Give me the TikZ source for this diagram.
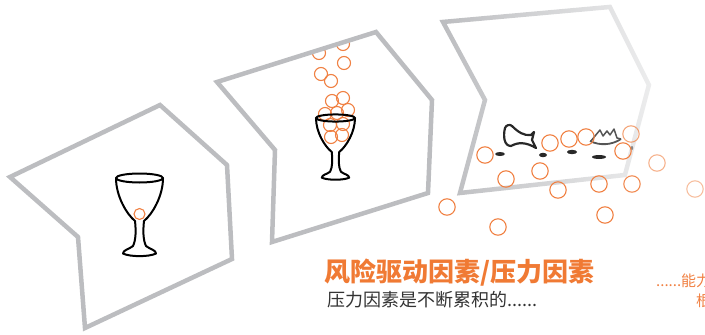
\documentclass[tikz,border=0pt]{standalone}
\usepackage{fontspec}
\usetikzlibrary{fadings}
\newfontfamily\cjk{Noto Sans CJK SC}
\definecolor{framegray}{RGB}{188,189,192}
\definecolor{dropor}{RGB}{240,128,66}
\definecolor{titleor}{RGB}{240,122,52}
\definecolor{textgray}{RGB}{51,51,51}
\definecolor{shard}{RGB}{40,40,40}
\definecolor{rimgray}{RGB}{85,85,85}
\tikzfading[name=fade east, left color=transparent!0, right color=transparent!72]
\tikzset{
  frame/.style={draw=framegray, line width=4.5, line join=miter},
  drop/.style={draw=dropor, line width=1.1},
  glass/.style={draw=black, line width=2, line join=round},
  goblet/.pic={
    \draw[glass] (-23.5,0) .. controls (-23.5,18) and (-13,36) .. (-4.5,43)
      .. controls (-3.5,52) and (-3.5,62) .. (-6.5,68)
      .. controls (-10,71) and (-16.5,72) .. (-16.5,75.5)
      .. controls (-10,79) and (10,79) .. (16.5,75.5)
      .. controls (16.5,72) and (10,71) .. (6.5,68)
      .. controls (3.5,62) and (3.5,52) .. (4.5,43)
      .. controls (13,36) and (23.5,18) .. (23.5,0);
    \draw[glass] (0,0) ellipse [x radius=23.5, y radius=4.5];
  }
}

\begin{document}
\begin{tikzpicture}[x=1pt, y=-1pt]
  \useasboundingbox (0,0) rectangle (705,335);
  \clip (0,0) rectangle (705,335);

  \coordinate (a1) at (10,177);
  \coordinate (a2) at (160,105);
  \coordinate (a3) at (227,165);
  \coordinate (a4) at (232,259);
  \coordinate (a5) at (85,328);
  \coordinate (a6) at (78,237);
  \coordinate (b1) at (217,82);
  \coordinate (b2) at (376,32);
  \coordinate (b3) at (432,100);
  \coordinate (b4) at (428,193);
  \coordinate (b5) at (272,242);
  \coordinate (b6) at (275,150);
  \coordinate (c1) at (443,22);
  \coordinate (c2) at (610,7);
  \coordinate (c3) at (649,85);
  \coordinate (c4) at (625,175);
  \coordinate (c5) at (460,193);
  \coordinate (c6) at (485,100);

  \draw[frame] (a1) -- (a2) -- (a3) -- (a4) -- (a5) -- (a6) -- cycle;
  \pic (cup1) at (139.5,178) {goblet};
  \draw[drop] (139.5,214) circle [radius=5.5];

  \begin{scope}
    \clip (b1) -- (b2) -- (b3) -- (b4) -- (b5) -- (b6) -- cycle;
    \foreach \x/\y in {319/53, 343/44, 344/63, 321/74, 331/81, 332/101, 343/98,
                       348/110, 325/114, 337/113, 330/125, 343/124, 331/137, 342/135}
      \draw[drop] (\x,\y) circle [radius=6.5];
  \end{scope}
  \draw[frame] (b1) -- (b2) -- (b3) -- (b4) -- (b5) -- (b6) -- cycle;
  \pic[xscale=0.83, yscale=0.79] (cup2) at (335.5,118) {goblet};

  \draw[frame, path fading=fade east] (c1) -- (c2) -- (c3) -- (c4) -- (c5) -- (c6) -- cycle;
  \draw[shard, line width=2.2, line join=round] (512,126) .. controls (518,132) and (524,136) .. (531,135)
    -- (534,132) -- (532,140) -- (536,148) .. controls (526,142) and (518,142) .. (511,146)
    .. controls (504,146) and (503,136) .. (505,128) .. controls (506,125) and (510,124) .. (512,126) -- cycle;
  \fill[shard] (500,154) ellipse [x radius=5, y radius=2];
  \fill[shard] (543,155) ellipse [x radius=4, y radius=2.2];
  \fill[shard] (572,152) ellipse [x radius=5, y radius=2.2];
  \fill[shard] (599,157) ellipse [x radius=7, y radius=2];
  \draw[rimgray, line width=1.8, line join=round] (590,141) .. controls (600,146) and (612,145) .. (621,139);
  \draw[rimgray, line width=1.5, line join=round] (591,141) -- (595,136) -- (600,130) -- (603,136)
    -- (607,131) -- (610,135) -- (614,129) -- (617,138) -- (621,139);
  \fill[rimgray!70] (632,148) ellipse [x radius=1.2, y radius=2];
  \foreach \x/\y/\o in {485/155/1, 506/179/1, 540/171/1, 550/143/1, 569/139/1, 586/137/1,
                        631/134/0.7, 623/151/1, 558/190/1, 599/184/1, 632/184/0.9,
                        657/163/0.6, 695/189/0.5, 447/207/1, 498/227/1, 605/215/1}
    \draw[drop, draw opacity=\o] (\x,\y) circle [radius=8.2];

  \node[anchor=base west, inner sep=0, text=titleor,
        font=\cjk\bfseries\fontsize{26}{30}\selectfont] (title) at (324,281.5) {风险驱动因素/压力因素};
  \node[anchor=base west, inner sep=0, text=textgray,
        font=\cjk\fontsize{18}{22}\selectfont] (subtitle) at (327,306.5) {压力因素是不断累积的......};
  \node[anchor=base west, inner sep=0, text=dropor,
        font=\cjk\fontsize{15}{18}\selectfont] (next1) at (656,286) {......能力};
  \node[anchor=base west, inner sep=0, text=dropor,
        font=\cjk\fontsize{15}{18}\selectfont] (next2) at (696,306) {根本};
\end{tikzpicture}
\end{document}
